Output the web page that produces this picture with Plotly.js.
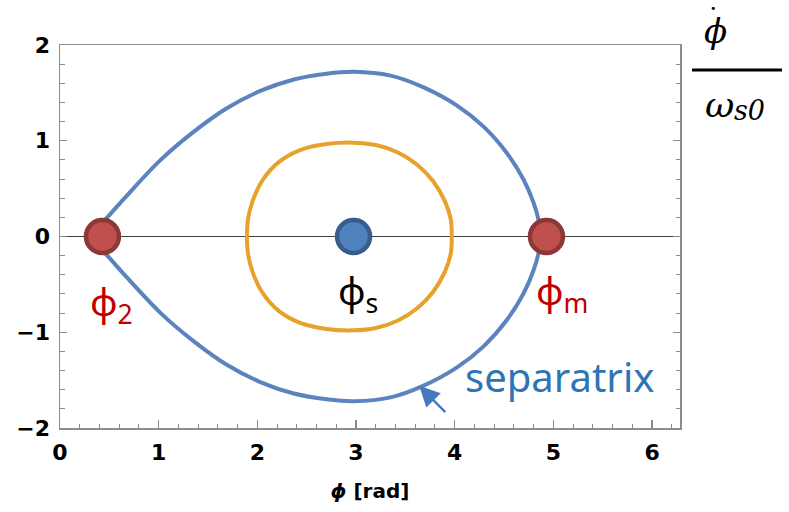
<!DOCTYPE html>
<html>
<head>
<meta charset="utf-8">
<script src="https://cdn.plot.ly/plotly-3.0.1.min.js"></script>
<style>
  html, body { margin: 0; padding: 0; background: #fff; }
  #plot { width: 789px; height: 512px; }
</style>
</head>
<body>
<div id="plot"></div>
<script>
// Separatrix of the longitudinal phase space: starts at the cusp (phi_2),
// runs over the top to phi_m and back along the bottom.
const sepPhi = [0.30, 0.48, 0.68, 1.02, 1.35, 1.69, 2.03, 2.37, 2.70, 2.98, 3.35, 3.68, 4.02, 4.29, 4.53, 4.70, 4.80, 4.85, 4.87,
                4.85, 4.80, 4.70, 4.53, 4.29, 4.02, 3.68, 3.35, 2.98, 2.70, 2.37, 2.03, 1.69, 1.35, 1.02, 0.68, 0.48, 0.30];
const sepDot = [0.00, 0.20, 0.43, 0.80, 1.09, 1.34, 1.52, 1.64, 1.70, 1.72, 1.68, 1.56, 1.37, 1.15, 0.87, 0.59, 0.35, 0.17, 0.00,
                -0.17, -0.35, -0.59, -0.87, -1.15, -1.37, -1.56, -1.68, -1.72, -1.70, -1.64, -1.52, -1.34, -1.09, -0.80, -0.43, -0.20, 0.00];

// Small oscillation orbit around the synchronous phase (starts and ends at its top)
const orbPhi = [2.97, 3.20, 3.42, 3.62, 3.78, 3.90, 3.96, 3.97, 3.96, 3.90, 3.78, 3.62, 3.42, 3.20, 2.97,
                2.70, 2.44, 2.22, 2.06, 1.955, 1.905, 1.895, 1.905, 1.955, 2.06, 2.22, 2.44, 2.70, 2.97];
const orbDot = [0.98, 0.955, 0.88, 0.75, 0.58, 0.37, 0.18, 0.00, -0.18, -0.37, -0.58, -0.75, -0.88, -0.955, -0.98,
                -0.965, -0.905, -0.78, -0.60, -0.38, -0.18, 0.00, 0.18, 0.38, 0.60, 0.78, 0.905, 0.965, 0.98];

// Fixed points
const unstablePhi = [0.43, 4.93];
const unstableDot = [0, 0];
const stablePhi = [2.975];
const stableDot = [0];

const axisGrey = '#8c8c8c';

const traces = [
  {
    x: sepPhi, y: sepDot, type: 'scatter', mode: 'lines',
    line: { color: '#5b84be', width: 4, shape: 'spline', smoothing: 1.0 },
    hoverinfo: 'skip'
  },
  {
    x: orbPhi, y: orbDot, type: 'scatter', mode: 'lines',
    line: { color: '#e6a22a', width: 4, shape: 'spline', smoothing: 1.0 },
    hoverinfo: 'skip'
  },
  {
    x: unstablePhi, y: unstableDot, type: 'scatter', mode: 'markers',
    marker: { size: 33, color: '#c0504d', line: { color: '#8c3836', width: 4.5 } },
    hoverinfo: 'skip'
  },
  {
    x: stablePhi, y: stableDot, type: 'scatter', mode: 'markers',
    marker: { size: 33, color: '#4f81bd', line: { color: '#385d8a', width: 4.5 } },
    hoverinfo: 'skip'
  }
];

// plot area in page pixels, used to place the fraction to the right of the frame
const plotL = 60, plotW = 789 - 60 - 109, plotB = 512 - 84, plotH = 512 - 45 - 84;
function pageNote(px, py, text, font) {
  return { x: (px - plotL) / plotW, y: (plotB - py) / plotH, xref: 'paper', yref: 'paper',
           xanchor: 'center', yanchor: 'middle', showarrow: false, text: text, font: font };
}

const labelFont = { family: 'Noto Sans, Open Sans, sans-serif', size: 38 };
const mathFont = { family: 'DejaVu Serif, serif', color: '#000', style: 'italic' };

const layout = {
  width: 789, height: 512,
  margin: { l: 60, r: 109, t: 45, b: 84 },
  paper_bgcolor: '#fff', plot_bgcolor: '#fff',
  showlegend: false,
  xaxis: {
    range: [0, 2 * Math.PI], tick0: 0, dtick: 1,
    ticks: 'inside', ticklen: 8, tickwidth: 1.2, tickcolor: axisGrey,
    minor: { tick0: 0, dtick: 0.2, ticks: 'inside', ticklen: 4.5, tickwidth: 1, tickcolor: axisGrey },
    showline: true, linecolor: axisGrey, linewidth: 1.5, mirror: true,
    showgrid: false, zeroline: false,
    tickfont: { family: 'DejaVu Sans, sans-serif', size: 22, color: '#000', weight: 'bold' },
    ticklabelstandoff: 4,
    title: { text: '<i>ϕ</i> [rad]', font: { family: 'DejaVu Sans, sans-serif', size: 20, color: '#000', weight: 'bold' }, standoff: 20 }
  },
  xaxis2: {
    overlaying: 'x', side: 'top', range: [0, 2 * Math.PI], tick0: 0, dtick: 2,
    ticks: 'inside', ticklen: 7, tickwidth: 1.2, tickcolor: axisGrey,
    minor: { tick0: 0, dtick: 0.5, ticks: 'inside', ticklen: 4.5, tickwidth: 1, tickcolor: axisGrey },
    showticklabels: false, showline: false, showgrid: false, zeroline: false
  },
  yaxis: {
    range: [-2, 2], tick0: 0, dtick: 1,
    ticks: 'inside', ticklen: 7, tickwidth: 1.2, tickcolor: axisGrey,
    minor: { tick0: 0, dtick: 0.2, ticks: 'inside', ticklen: 4.5, tickwidth: 1, tickcolor: axisGrey },
    showline: true, linecolor: axisGrey, linewidth: 1.5, mirror: 'ticks',
    showgrid: false, zeroline: true, zerolinecolor: '#404040', zerolinewidth: 1.3,
    tickfont: { family: 'DejaVu Sans, sans-serif', size: 22, color: '#000', weight: 'bold' },
    ticklabelstandoff: 4
  },
  annotations: [
    { x: 0.52, y: -0.70, xref: 'x', yref: 'y', showarrow: false,
      text: 'ϕ<sub>2</sub>', font: Object.assign({}, labelFont, { color: '#c00000' }) },
    { x: 3.02, y: -0.59, xref: 'x', yref: 'y', showarrow: false,
      text: 'ϕ<sub>s</sub>', font: Object.assign({}, labelFont, { color: '#000' }) },
    { x: 5.09, y: -0.59, xref: 'x', yref: 'y', showarrow: false,
      text: 'ϕ<sub>m</sub>', font: Object.assign({}, labelFont, { color: '#c00000' }) },
    { x: 5.06, y: -1.46, xref: 'x', yref: 'y', showarrow: false,
      text: 'separatrix', font: { family: 'Noto Sans, Open Sans, sans-serif', size: 40, color: '#2e75b6' } },
    // arrow pointing at the separatrix
    { x: 3.64, y: -1.56, xref: 'x', yref: 'y', ax: 3.92, ay: -1.85, axref: 'x', ayref: 'y',
      text: '', showarrow: true, arrowhead: 2, arrowsize: 1.7, arrowwidth: 2.4, arrowcolor: '#4a78bd' },
    // d(phi)/dt over omega_s0, written as a fraction to the right of the frame
    pageNote(715, 31, 'ϕ', Object.assign({ size: 34 }, mathFont)),
    pageNote(713, 8, '•', { family: 'DejaVu Sans', size: 11, color: '#000' }),
    pageNote(719, 104, 'ω', Object.assign({ size: 36 }, mathFont)),
    pageNote(750, 111, 's0', Object.assign({ size: 27 }, mathFont))
  ],
  shapes: [
    { type: 'line', xref: 'paper', yref: 'paper',
      x0: (692 - plotL) / plotW, x1: (782 - plotL) / plotW,
      y0: (plotB - 70) / plotH, y1: (plotB - 70) / plotH,
      line: { color: '#000', width: 3.2 } }
  ]
};

Plotly.newPlot('plot', traces, layout, { displayModeBar: false, staticPlot: true });
</script>
</body>
</html>
